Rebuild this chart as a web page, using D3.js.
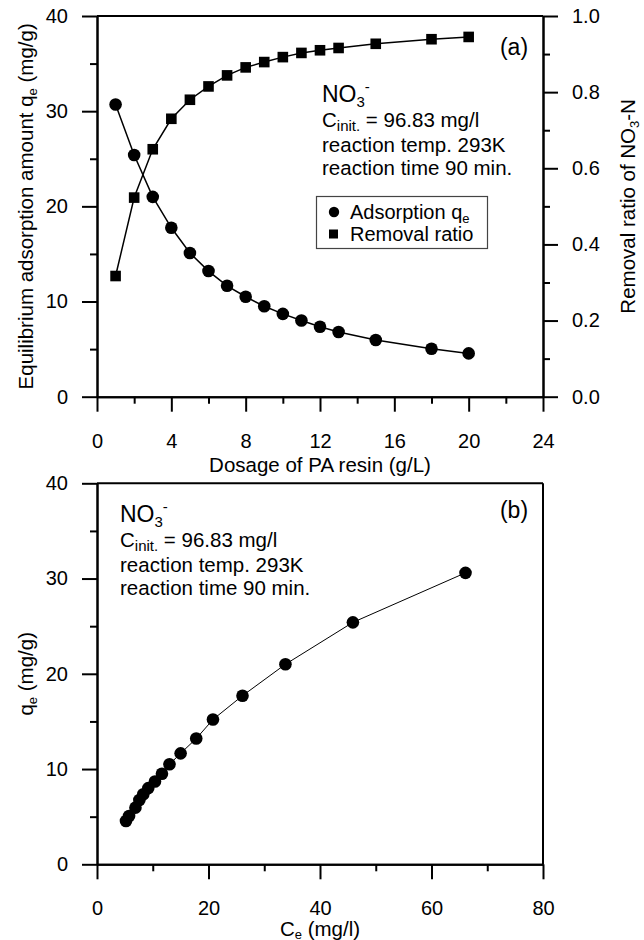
<!DOCTYPE html>
<html>
<head>
<meta charset="utf-8">
<script src="https://cdn.jsdelivr.net/npm/d3@7"></script>
<style>
  body { margin: 0; background: #fff; }
  svg { display: block; font-family: "Liberation Sans", Arial, sans-serif; }
  .axis path, .axis line { stroke: #000; stroke-width: 2; }
  .axis text { font-size: 20px; fill: #000; }
</style>
</head>
<body>
<script>
// data
var dosage   = [1, 2, 3, 4, 5, 6, 7, 8, 9, 10, 11, 12, 13, 15, 18, 20];          // g/L
var qeDose   = [30.7, 25.4, 21.0, 17.75, 15.1, 13.2, 11.65, 10.5, 9.5, 8.7, 8.0, 7.35, 6.8, 5.95, 5.04, 4.55];
var removal  = [0.317, 0.523, 0.650, 0.730, 0.780, 0.815, 0.844, 0.865, 0.879, 0.892, 0.903, 0.910, 0.916, 0.927, 0.939, 0.945];
var ceIso    = [66.1, 45.9, 33.8, 26.1, 20.8, 17.8, 15.0, 13.0, 11.65, 10.4, 9.2, 8.3, 7.6, 6.9, 5.75, 5.2]; // mg/l
var qeIso    = [30.6, 25.4, 21.0, 17.7, 15.2, 13.2, 11.65, 10.5, 9.5, 8.7, 8.0, 7.35, 6.75, 5.95, 5.07, 4.55];

var doseTicks     = [0, 4, 8, 12, 16, 20, 24];
var doseMinor     = [2, 6, 10, 14, 18, 22];
var qeTicks       = [0, 10, 20, 30, 40];
var qeMinor       = [5, 15, 25, 35];
var ratioTicks    = [0, 0.2, 0.4, 0.6, 0.8, 1.0];
var ratioMinor    = [0.1, 0.3, 0.5, 0.7, 0.9];
var ceTicks       = [0, 20, 40, 60, 80];
var ceMinor       = [10, 30, 50, 70];

var svg = d3.select("body").append("svg")
    .attr("width", 644)
    .attr("height", 940);

var plotL = 97, plotR = 543;

// helper: minor ticks first, then major ticks with labels
function drawAxis(g, maker, scale, major, minor, fmt, pad) {
    g.append("g").call(maker(scale).tickValues(minor).tickSize(7).tickSizeOuter(0).tickFormat(""));
    g.append("g").call(maker(scale).tickValues(major).tickSize(15).tickSizeOuter(0).tickPadding(pad).tickFormat(fmt));
}

/* ---------- panel (a) ---------- */
var xA = d3.scaleLinear().domain([0, 24]).range([plotL, plotR]);
var yA = d3.scaleLinear().domain([0, 40]).range([396.7, 16]);
var yR = d3.scaleLinear().domain([0, 1]).range([396.7, 16]);

var gA = svg.append("g");

gA.append("line")
    .attr("x1", plotL).attr("x2", plotR)
    .attr("y1", yA(40)).attr("y2", yA(40))
    .attr("stroke", "#000").attr("stroke-width", 2);

drawAxis(gA.append("g").attr("class", "axis").attr("transform", "translate(0," + yA(0) + ")"),
    d3.axisBottom, xA, doseTicks, doseMinor, d3.format("d"), 22);
drawAxis(gA.append("g").attr("class", "axis").attr("transform", "translate(" + plotL + ",0)"),
    d3.axisLeft, yA, qeTicks, qeMinor, d3.format("d"), 14);
drawAxis(gA.append("g").attr("class", "axis").attr("transform", "translate(" + plotR + ",0)"),
    d3.axisRight, yR, ratioTicks, ratioMinor, d3.format(".1f"), 14);

var ptsQ = dosage.map(function(d, i) { return [d, qeDose[i]]; });
var ptsR = dosage.map(function(d, i) { return [d, removal[i]]; });

gA.append("path")
    .datum(ptsQ)
    .attr("fill", "none").attr("stroke", "#000").attr("stroke-width", 1.5)
    .attr("d", d3.line().x(function(d) { return xA(d[0]); }).y(function(d) { return yA(d[1]); }));

gA.append("path")
    .datum(ptsR)
    .attr("fill", "none").attr("stroke", "#000").attr("stroke-width", 1.5)
    .attr("d", d3.line().x(function(d) { return xA(d[0]); }).y(function(d) { return yR(d[1]); }));

gA.selectAll(".dotQ").data(ptsQ).enter().append("circle")
    .attr("class", "dotQ")
    .attr("cx", function(d) { return xA(d[0]); })
    .attr("cy", function(d) { return yA(d[1]); })
    .attr("r", 6.3)
    .attr("fill", "#000");

var sq = 10.6;
gA.selectAll(".sqR").data(ptsR).enter().append("rect")
    .attr("class", "sqR")
    .attr("x", function(d) { return xA(d[0]) - sq / 2; })
    .attr("y", function(d) { return yR(d[1]) - sq / 2; })
    .attr("width", sq).attr("height", sq)
    .attr("fill", "#000");

// axis titles
var tl = gA.append("text")
    .attr("transform", "translate(33," + yA(20) + ") rotate(-90)")
    .attr("text-anchor", "middle")
    .style("font-size", "20.5px");
tl.append("tspan").text("Equilibrium adsorption amount q");
tl.append("tspan").text("e").style("font-size", "13px").attr("dy", 4);
tl.append("tspan").text(" (mg/g)").attr("dy", -4);

var tr = gA.append("text")
    .attr("transform", "translate(635," + yA(20) + ") rotate(-90)")
    .attr("text-anchor", "middle")
    .style("font-size", "20.5px");
tr.append("tspan").text("Removal ratio of NO");
tr.append("tspan").text("3").style("font-size", "13px").attr("dy", 4);
tr.append("tspan").text("-N").attr("dy", -4);

gA.append("text")
    .attr("x", (plotL + plotR) / 2).attr("y", 472)
    .attr("text-anchor", "middle")
    .style("font-size", "20.5px")
    .text("Dosage of PA resin (g/L)");

gA.append("text")
    .attr("x", 514).attr("y", 55)
    .attr("text-anchor", "middle")
    .style("font-size", "23px")
    .text("(a)");

// condition note
function drawNote(g, x, y0) {
    var t1 = g.append("text").attr("x", x).attr("y", y0).style("font-size", "23px");
    t1.append("tspan").text("NO");
    t1.append("tspan").text("3").style("font-size", "15px").attr("dy", 5);
    t1.append("tspan").text("-").style("font-size", "15px").attr("dy", -15);

    var t2 = g.append("text").attr("x", x).attr("y", y0 + 25).style("font-size", "20.5px");
    t2.append("tspan").text("C");
    t2.append("tspan").text("init.").style("font-size", "15px").attr("dy", 4);
    t2.append("tspan").text(" = 96.83 mg/l").attr("dy", -4);

    g.append("text").attr("x", x).attr("y", y0 + 50).style("font-size", "20.5px").text("reaction temp. 293K");
    g.append("text").attr("x", x).attr("y", y0 + 73).style("font-size", "20.5px").text("reaction time 90 min.");
}
drawNote(gA, 322, 102);

// legend
var lg = gA.append("g");
lg.append("rect")
    .attr("x", 316.5).attr("y", 196.5).attr("width", 171).attr("height", 52)
    .attr("fill", "#fff").attr("stroke", "#444").attr("stroke-width", 1.2);
lg.append("circle").attr("cx", 334).attr("cy", 212).attr("r", 5.2).attr("fill", "#000");
lg.append("rect").attr("x", 329).attr("y", 229.5).attr("width", 9).attr("height", 9).attr("fill", "#000");
var lt1 = lg.append("text").attr("x", 350).attr("y", 219).style("font-size", "20px");
lt1.append("tspan").text("Adsorption q");
lt1.append("tspan").text("e").style("font-size", "13px").attr("dy", 4);
lg.append("text").attr("x", 350).attr("y", 241).style("font-size", "20px").text("Removal ratio");

/* ---------- panel (b) ---------- */
var xB = d3.scaleLinear().domain([0, 80]).range([plotL, plotR]);
var yB = d3.scaleLinear().domain([0, 40]).range([864.3, 483.3]);

var gB = svg.append("g");

gB.append("line")
    .attr("x1", plotL).attr("x2", plotR)
    .attr("y1", yB(40)).attr("y2", yB(40))
    .attr("stroke", "#000").attr("stroke-width", 2);
gB.append("line")
    .attr("x1", plotR).attr("x2", plotR)
    .attr("y1", yB(40)).attr("y2", yB(0))
    .attr("stroke", "#000").attr("stroke-width", 2);

drawAxis(gB.append("g").attr("class", "axis").attr("transform", "translate(0," + yB(0) + ")"),
    d3.axisBottom, xB, ceTicks, ceMinor, d3.format("d"), 22);
drawAxis(gB.append("g").attr("class", "axis").attr("transform", "translate(" + plotL + ",0)"),
    d3.axisLeft, yB, qeTicks, qeMinor, d3.format("d"), 14);

var ptsB = ceIso.map(function(d, i) { return [d, qeIso[i]]; });

gB.append("path")
    .datum(ptsB)
    .attr("fill", "none").attr("stroke", "#000").attr("stroke-width", 1)
    .attr("d", d3.line().x(function(d) { return xB(d[0]); }).y(function(d) { return yB(d[1]); }));

gB.selectAll(".dotB").data(ptsB).enter().append("circle")
    .attr("class", "dotB")
    .attr("cx", function(d) { return xB(d[0]); })
    .attr("cy", function(d) { return yB(d[1]); })
    .attr("r", 6.3)
    .attr("fill", "#000");

var bl = gB.append("text")
    .attr("transform", "translate(33," + yB(20) + ") rotate(-90)")
    .attr("text-anchor", "middle")
    .style("font-size", "20.5px");
bl.append("tspan").text("q");
bl.append("tspan").text("e").style("font-size", "13px").attr("dy", 4);
bl.append("tspan").text(" (mg/g)").attr("dy", -4);

// sits at the very bottom edge, as in the source figure
var bx = gB.append("text")
    .attr("x", (plotL + plotR) / 2).attr("y", 936)
    .attr("text-anchor", "middle")
    .style("font-size", "20.5px");
bx.append("tspan").text("C");
bx.append("tspan").text("e").style("font-size", "13px").attr("dy", 3);
bx.append("tspan").text(" (mg/l)").attr("dy", -3);

gB.append("text")
    .attr("x", 514).attr("y", 518)
    .attr("text-anchor", "middle")
    .style("font-size", "23px")
    .text("(b)");

drawNote(gB, 120, 522);
</script>
</body>
</html>
